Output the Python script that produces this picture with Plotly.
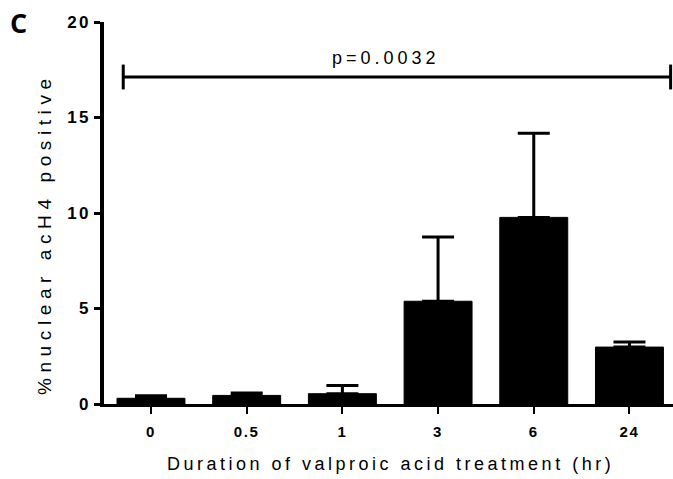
import plotly.graph_objects as go

# Duration of valproic acid treatment (hr) and % nuclear acH4 positive cells
durations = ["0", "0.5", "1", "3", "6", "24"]
mean_pct = [0.30, 0.45, 0.54, 5.38, 9.77, 2.98]
sem_pct = [0.13, 0.12, 0.43, 3.36, 4.40, 0.26]

y_ticks = [0, 5, 10, 15, 20]
p_label = "p=0.0032"
bracket_y = 17.12
bracket_x = (-0.29, 5.43)
bracket_tip = 0.65

FONT = "Liberation Sans, Arial, sans-serif"


def spaced(text, px):
    """Wrap text in a span with extra letter spacing."""
    return f'<span style="letter-spacing:{px}px">{text}</span>'


fig = go.Figure()
fig.add_trace(go.Bar(
    x=durations,
    y=mean_pct,
    width=0.71,
    marker=dict(color="black", line=dict(color="black", width=1)),
    error_y=dict(
        type="data",
        array=sem_pct,
        arrayminus=[0] * len(sem_pct),
        symmetric=False,
        color="black",
        thickness=3,
        width=16,
    ),
    showlegend=False,
))

# significance bracket across all groups
x0, x1 = bracket_x
line_style = dict(color="black", width=3)
fig.add_shape(type="line", xref="x", yref="y", x0=x0, x1=x1,
              y0=bracket_y, y1=bracket_y, line=line_style)
for xe in bracket_x:
    fig.add_shape(type="line", xref="x", yref="y", x0=xe, x1=xe,
                  y0=bracket_y - bracket_tip, y1=bracket_y + bracket_tip,
                  line=line_style)

annotations = [
    dict(text=spaced(p_label, 4.0), xref="x", yref="y", x=2.46, y=18.12,
         showarrow=False, xanchor="center", yanchor="middle",
         font=dict(family=FONT, size=18, color="black")),
    dict(text=spaced("Duration of valproic acid treatment (hr)", 3.5),
         xref="paper", yref="paper", x=0.503, y=-0.157,
         showarrow=False, xanchor="center", yanchor="middle",
         font=dict(family=FONT, size=18, color="black")),
    dict(text=spaced("%nuclear acH4 positive", 5.6),
         xref="paper", yref="paper", x=-0.1054, y=0.445, textangle=-90,
         showarrow=False, xanchor="center", yanchor="middle",
         font=dict(family=FONT, size=19, color="black")),
    dict(text="<b>C</b>", xref="paper", yref="paper", x=-0.1495, y=0.9995,
         showarrow=False, xanchor="center", yanchor="middle",
         font=dict(family="Open Sans, sans-serif", size=27, color="black")),
]

fig.update_layout(
    width=673,
    height=479,
    margin=dict(l=104, r=0, t=22, b=75),
    paper_bgcolor="white",
    plot_bgcolor="white",
    annotations=annotations,
    font=dict(family=FONT, color="black"),
)

fig.update_xaxes(
    type="category",
    range=[-0.491, 5.455],
    showline=True, linecolor="black", linewidth=3,
    ticks="outside", ticklen=7, tickwidth=2, tickcolor="black",
    tickvals=durations,
    ticktext=[spaced(f"<b>{d}</b>", 1.6) for d in durations],
    tickfont=dict(family=FONT, size=15, color="black"),
    ticklabelstandoff=5,
    showgrid=False, zeroline=False,
)
fig.update_yaxes(
    range=[0, 20],
    showline=True, linecolor="black", linewidth=4,
    ticks="outside", ticklen=6, tickwidth=3, tickcolor="black",
    tickvals=y_ticks,
    ticktext=[spaced(f"<b>{v}</b>", 2.2) for v in y_ticks],
    tickfont=dict(family=FONT, size=17, color="black"),
    showgrid=False, zeroline=False,
)

fig.write_html("out.html")
